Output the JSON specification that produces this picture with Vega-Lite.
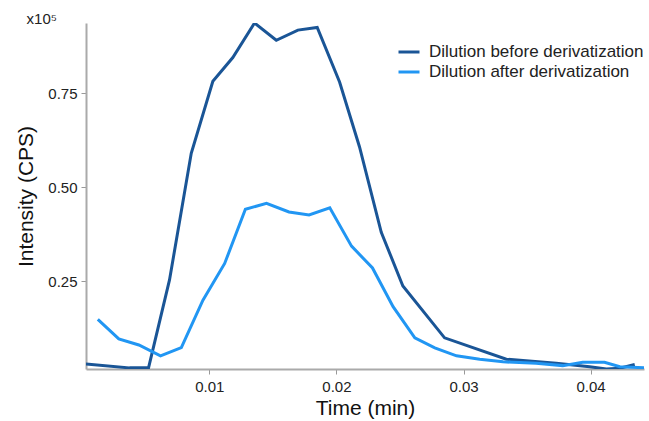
{
  "$schema": "https://vega.github.io/schema/vega-lite/v6.json",
  "width": 558,
  "height": 346,
  "autosize": {"type": "none"},
  "padding": {"left": 86, "top": 23, "right": 5, "bottom": 52},
  "config": {
    "view": {"stroke": null},
    "font": "Liberation Sans",
    "axis": {"grid": false, "domainColor": "#aaaaaa", "domainWidth": 2, "tickColor": "#999999", "tickSize": 5, "labelFont": "Liberation Sans", "labelFontSize": 15, "labelColor": "#222222", "titleFont": "Liberation Sans", "titleFontSize": 21, "titleFontWeight": "normal", "titleColor": "#111111"}
  },
  "layer": [
    {
      "data": {"values": [
        {"series": "Dilution before derivatization", "t": 0.0003, "v": 0.029},
        {"series": "Dilution before derivatization", "t": 0.00372, "v": 0.019},
        {"series": "Dilution before derivatization", "t": 0.00522, "v": 0.019},
        {"series": "Dilution before derivatization", "t": 0.00687, "v": 0.253},
        {"series": "Dilution before derivatization", "t": 0.00858, "v": 0.59},
        {"series": "Dilution before derivatization", "t": 0.01028, "v": 0.782},
        {"series": "Dilution before derivatization", "t": 0.01185, "v": 0.845},
        {"series": "Dilution before derivatization", "t": 0.01356, "v": 0.937},
        {"series": "Dilution before derivatization", "t": 0.01527, "v": 0.891},
        {"series": "Dilution before derivatization", "t": 0.01697, "v": 0.918},
        {"series": "Dilution before derivatization", "t": 0.01849, "v": 0.925},
        {"series": "Dilution before derivatization", "t": 0.02025, "v": 0.78},
        {"series": "Dilution before derivatization", "t": 0.02182, "v": 0.607},
        {"series": "Dilution before derivatization", "t": 0.02353, "v": 0.38},
        {"series": "Dilution before derivatization", "t": 0.02523, "v": 0.237},
        {"series": "Dilution before derivatization", "t": 0.02851, "v": 0.099},
        {"series": "Dilution before derivatization", "t": 0.03337, "v": 0.042},
        {"series": "Dilution before derivatization", "t": 0.0373, "v": 0.031},
        {"series": "Dilution before derivatization", "t": 0.03992, "v": 0.022},
        {"series": "Dilution before derivatization", "t": 0.04124, "v": 0.016},
        {"series": "Dilution before derivatization", "t": 0.0423, "v": 0.018},
        {"series": "Dilution before derivatization", "t": 0.04347, "v": 0.028},
        {"series": "Dilution after derivatization", "t": 0.00123, "v": 0.148},
        {"series": "Dilution after derivatization", "t": 0.00288, "v": 0.096},
        {"series": "Dilution after derivatization", "t": 0.00446, "v": 0.08},
        {"series": "Dilution after derivatization", "t": 0.00616, "v": 0.051},
        {"series": "Dilution after derivatization", "t": 0.0078, "v": 0.073},
        {"series": "Dilution after derivatization", "t": 0.0095, "v": 0.199},
        {"series": "Dilution after derivatization", "t": 0.01121, "v": 0.297},
        {"series": "Dilution after derivatization", "t": 0.01284, "v": 0.441},
        {"series": "Dilution after derivatization", "t": 0.0145, "v": 0.457},
        {"series": "Dilution after derivatization", "t": 0.01627, "v": 0.434},
        {"series": "Dilution after derivatization", "t": 0.01785, "v": 0.426},
        {"series": "Dilution after derivatization", "t": 0.01948, "v": 0.445},
        {"series": "Dilution after derivatization", "t": 0.02119, "v": 0.343},
        {"series": "Dilution after derivatization", "t": 0.02284, "v": 0.285},
        {"series": "Dilution after derivatization", "t": 0.02446, "v": 0.182},
        {"series": "Dilution after derivatization", "t": 0.02617, "v": 0.099},
        {"series": "Dilution after derivatization", "t": 0.02774, "v": 0.072},
        {"series": "Dilution after derivatization", "t": 0.02945, "v": 0.051},
        {"series": "Dilution after derivatization", "t": 0.03128, "v": 0.042},
        {"series": "Dilution after derivatization", "t": 0.03311, "v": 0.035},
        {"series": "Dilution after derivatization", "t": 0.03571, "v": 0.031},
        {"series": "Dilution after derivatization", "t": 0.03781, "v": 0.025},
        {"series": "Dilution after derivatization", "t": 0.03938, "v": 0.034},
        {"series": "Dilution after derivatization", "t": 0.04109, "v": 0.034},
        {"series": "Dilution after derivatization", "t": 0.0423, "v": 0.022},
        {"series": "Dilution after derivatization", "t": 0.0444, "v": 0.019}
      ]},
      "mark": {"type": "line", "strokeWidth": 3, "clip": true},
      "encoding": {
        "x": {"field": "t", "type": "quantitative", "title": "Time (min)", "scale": {"domain": [0.0003, 0.0442], "nice": false, "zero": false}, "axis": {"values": [0.01, 0.02, 0.03, 0.04], "format": ".2f", "labelPadding": 5, "titlePadding": 3}},
        "y": {"field": "v", "type": "quantitative", "title": "Intensity (CPS)", "scale": {"domain": [0.016, 0.937], "nice": false, "zero": false}, "axis": {"values": [0.25, 0.5, 0.75], "format": ".2f", "labelPadding": 4, "titlePadding": 11}},
        "color": {"field": "series", "type": "nominal", "sort": ["Dilution before derivatization", "Dilution after derivatization"], "scale": {"domain": ["Dilution before derivatization", "Dilution after derivatization"], "range": ["#1a5596", "#2196f3"]},
          "legend": {"title": null, "orient": "none", "legendX": 311, "legendY": 17, "symbolType": "stroke", "symbolStrokeWidth": 3, "symbolSize": 441, "labelFontSize": 17, "labelColor": "#222222", "labelFont": "Liberation Sans", "labelLimit": 0, "rowPadding": 0, "labelOffset": 8}}
      }
    },
    {
      "data": {"values": [{"label": "x10⁵"}]},
      "mark": {"type": "text", "align": "right", "baseline": "bottom", "fontSize": 15, "color": "#222222", "dx": -29, "dy": 4},
      "encoding": {
        "x": {"datum": 0.0003, "type": "quantitative"},
        "y": {"datum": 0.937, "type": "quantitative"},
        "text": {"field": "label"}
      }
    }
  ]
}
